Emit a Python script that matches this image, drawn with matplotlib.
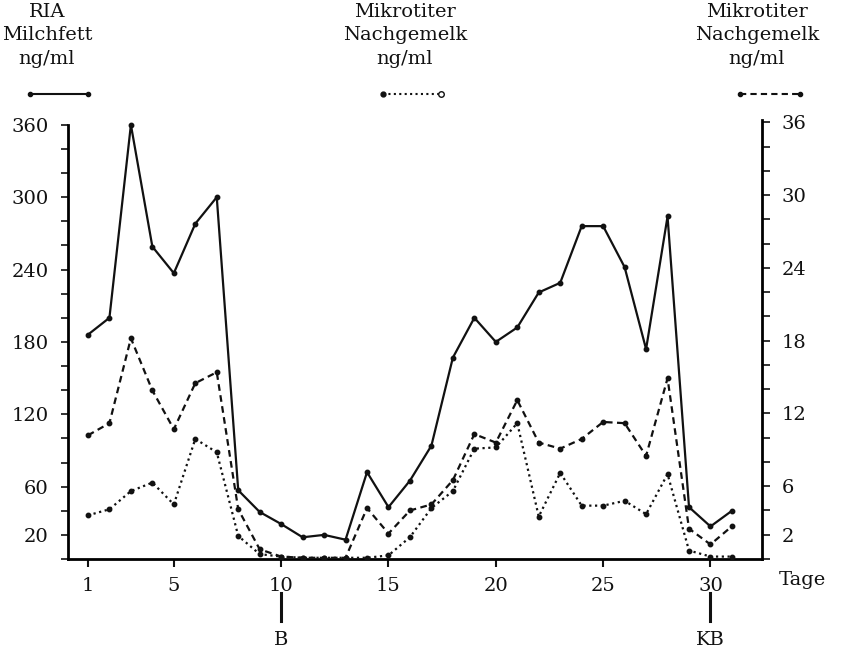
import matplotlib
matplotlib.use("Agg")
import matplotlib.pyplot as plt
from matplotlib.lines import Line2D
import matplotlib.transforms as mtransforms

plt.rcParams['font.family'] = ['DejaVu Serif', 'Liberation Serif']

# Tage 1..31
tage = list(range(1, 32))

# RIA Milchfett ng/ml (linke Achse)
ria_milchfett = [186, 200, 360, 259, 237, 278, 300, 57, 39, 29, 18, 20, 16, 72, 43,
                 65, 94, 167, 200, 180, 192, 221, 229, 276, 276, 242, 174, 284, 43, 27, 40]

# Mikrotiter Nachgemelk ng/ml, gepunktet (rechte Achse)
mikro_punkt = [3.6, 4.1, 5.6, 6.3, 4.5, 9.9, 8.8, 1.9, 0.4, 0.2, 0.1, 0.1, 0.1, 0.1, 0.3,
               1.8, 4.2, 5.6, 9.1, 9.2, 11.2, 3.5, 7.1, 4.4, 4.4, 4.8, 3.7, 7.0, 0.7, 0.2, 0.2]

# Mikrotiter Nachgemelk ng/ml, gestrichelt (rechte Achse)
mikro_strich = [10.2, 11.2, 18.2, 13.9, 10.7, 14.5, 15.4, 4.1, 0.8, 0.2, 0.1, 0.1, 0.1, 4.2, 2.1,
                4.0, 4.5, 6.5, 10.3, 9.6, 13.1, 9.6, 9.1, 9.9, 11.3, 11.2, 8.5, 14.9, 2.5, 1.2, 2.7]

x_ticks = [1, 5, 10, 15, 20, 25, 30]
left_labels = [20, 60, 120, 180, 240, 300, 360]
right_labels = [2, 6, 12, 18, 24, 30, 36]

fig = plt.figure(figsize=(8.47, 6.51), dpi=100)
ax = fig.add_axes([68 / 847, 1 - 559 / 651, 694 / 847, 439 / 651])
ax2 = ax.twinx()

ink = '#111111'
fs = 14

ax.plot(tage, ria_milchfett, color=ink, lw=1.6, marker='o', ms=3.2)
ax2.plot(tage, mikro_punkt, color=ink, lw=1.6, ls=(0, (1, 1.6)), marker='o', ms=3.2)
ax2.plot(tage, mikro_strich, color=ink, lw=1.6, ls=(0, (3, 2)), marker='o', ms=3.2)

ax.set_xlim(0.07, 32.4)
ax.set_ylim(0, 364)
ax2.set_ylim(0, 36.2)

for a in (ax, ax2):
    a.spines['top'].set_visible(False)
ax.spines['right'].set_visible(False)
ax2.spines['left'].set_visible(False)
ax2.spines['bottom'].set_visible(False)
ax.spines['left'].set_bounds(0, 360)
for s in ('left', 'bottom'):
    ax.spines[s].set_linewidth(2)
ax2.spines['right'].set_linewidth(2)

ax.set_xticks(x_ticks)
ax.set_xticklabels([str(t) for t in x_ticks])

lt = list(range(0, 361, 20))
ax.set_yticks(lt)
ax.set_yticklabels([str(v) if v in left_labels else '' for v in lt])
rt = list(range(0, 37, 2))
ax2.set_yticks(rt)
ax2.set_yticklabels([str(v) if v in right_labels else '' for v in rt])

ax.tick_params(axis='x', direction='out', length=6, width=1.5, pad=7,
               labelsize=fs, colors=ink)
ax.tick_params(axis='y', direction='out', length=5, width=1.2, pad=9,
               labelsize=fs, colors=ink)
ax2.tick_params(axis='y', direction='out', length=6, width=1.2, pad=8,
                labelsize=fs, colors=ink)

# Markierungen B und KB
trans = mtransforms.blended_transform_factory(ax.transData, ax.transAxes)
for xpos, txt in [(10, 'B'), (30, 'KB')]:
    ax.plot([xpos, xpos], [-0.078, -0.142], transform=trans, color=ink,
            lw=2.2, clip_on=False)
    ax.text(xpos, -0.185, txt, transform=trans, ha='center', va='center',
            fontsize=fs, color=ink)

ax.text(1.058, -0.048, 'Tage', transform=ax.transAxes, ha='center', va='center',
        fontsize=fs, color=ink)

# Kopfzeilen
heads = [(47, 'RIA\nMilchfett\nng/ml'),
         (405, 'Mikrotiter\nNachgemelk\nng/ml'),
         (757, 'Mikrotiter\nNachgemelk\nng/ml')]
for xc, txt in heads:
    fig.text(xc / 847, 1 - 3 / 651, txt, ha='center', va='top', fontsize=fs,
             linespacing=1.38, color=ink)

# Legendensymbole
ky = 1 - 94 / 651
fig.add_artist(Line2D([30 / 847, 88 / 847], [ky, ky], color=ink, lw=1.5,
                      marker='o', ms=3))
fig.add_artist(Line2D([383 / 847, 440 / 847], [ky, ky], color=ink, lw=1.5,
                      ls=(0, (1, 1.6))))
fig.add_artist(Line2D([383 / 847], [ky], color=ink, marker='o', ms=3.5))
fig.add_artist(Line2D([441 / 847], [ky], color=ink, marker='o', ms=4,
                      mfc='white', mew=1))
fig.add_artist(Line2D([740 / 847, 800 / 847], [ky, ky], color=ink, lw=1.5,
                      ls=(0, (3, 2)), marker='o', ms=3))

fig.savefig('out.png', dpi=100)
